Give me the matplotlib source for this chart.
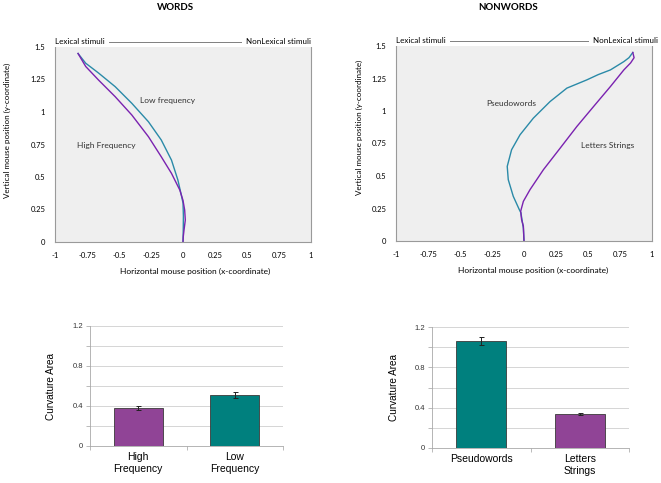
import matplotlib
matplotlib.use('Agg')
import numpy as np
import matplotlib.pyplot as plt

# mouse trajectories
words_low_x = [-0.82, -0.76, -0.66, -0.53, -0.40, -0.27, -0.17, -0.09, -0.04, -0.013, 0.0, 0.003, 0.002, 0.0]
words_low_y = [1.45, 1.375, 1.30, 1.195, 1.067, 0.925, 0.785, 0.63, 0.477, 0.36, 0.30, 0.20, 0.10, 0.0]
words_high_x = [-0.82, -0.76, -0.66, -0.53, -0.40, -0.27, -0.17, -0.09, -0.025, 0.0, 0.013, 0.018, 0.008, 0.002, 0.0]
words_high_y = [1.45, 1.35, 1.246, 1.118, 0.977, 0.81, 0.656, 0.528, 0.40, 0.32, 0.246, 0.169, 0.092, 0.04, 0.0]

pseudo_x = [0.85, 0.82, 0.78, 0.675, 0.58, 0.49, 0.335, 0.204, 0.073, -0.031, -0.097, -0.131, -0.123, -0.084, -0.037, -0.024, -0.015, -0.005, 0.0]
pseudo_y = [1.45, 1.41, 1.38, 1.316, 1.28, 1.239, 1.176, 1.073, 0.945, 0.817, 0.702, 0.574, 0.472, 0.344, 0.242, 0.216, 0.16, 0.10, 0.0]
letters_x = [0.85, 0.86, 0.833, 0.78, 0.675, 0.544, 0.413, 0.283, 0.152, 0.047, -0.005, -0.026, -0.019, -0.005, 0.0]
letters_y = [1.45, 1.41, 1.37, 1.316, 1.188, 1.035, 0.881, 0.715, 0.549, 0.395, 0.305, 0.229, 0.165, 0.114, 0.0]

xticks_top = [-1, -0.75, -0.5, -0.25, 0, 0.25, 0.5, 0.75, 1]
yticks_top = [0, 0.25, 0.5, 0.75, 1, 1.25, 1.5]

# curvature area bars
words_cats = ['High\nFrequency', 'Low\nFrequency']
words_area = [0.385, 0.51]
words_err = [0.02, 0.027]
nonwords_cats = ['Pseudowords', 'Letters\nStrings']
nonwords_area = [1.065, 0.337]
nonwords_err = [0.04, 0.012]

teal_line = '#2a8aa8'
purple_line = '#7a22b0'
teal_bar = '#00807e'
purple_bar = '#904496'

W, H = 661, 483
fig = plt.figure(figsize=(W / 100, H / 100), dpi=100)
fig.patch.set_facecolor('white')


def px_axes(x0, y0, x1, y1):
    return fig.add_axes([x0 / W, 1 - y1 / H, (x1 - x0) / W, (y1 - y0) / H])


def fmt(v):
    return ('%g' % v)


def traj_panel(ax, series, notes, right_pad, xlab_pos, ylab_pos):
    ax.set_facecolor('#efefef')
    for xs, ys, c in series:
        ax.plot(xs, ys, color=c, lw=1.0)
    ax.set_xlim(-1, 1)
    ax.set_ylim(0, 1.5)
    ax.set_xticks(xticks_top)
    ax.set_xticklabels([fmt(v) for v in xticks_top], fontsize=5.5, family='Lato')
    ax.set_yticks(yticks_top)
    ax.set_yticklabels([fmt(v) for v in yticks_top], fontsize=5.5, family='Lato')
    ax.tick_params(length=0, pad=7)
    for s in ['left', 'right', 'bottom']:
        ax.spines[s].set_color('#9a9a9a')
        ax.spines[s].set_linewidth(0.8)
    ax.spines['top'].set_visible(False)
    ax.set_xlabel('Horizontal mouse position (x-coordinate)', fontsize=6, family='Lato')
    ax.set_ylabel('Vertical mouse position (y-coordinate)', fontsize=5.8, family='Lato')
    ax.xaxis.set_label_coords(*xlab_pos)
    ax.yaxis.set_label_coords(*ylab_pos)
    ax.plot([0, 1], [1.028, 1.028], transform=ax.transAxes, color='#808080', lw=0.7, clip_on=False)
    ax.text(0.0, 1.028, 'Lexical stimuli ', transform=ax.transAxes, ha='left', va='center',
            fontsize=5.8, family='Lato', bbox=dict(fc='white', ec='none', pad=1.5))
    ax.text(1.0 + right_pad, 1.028, ' NonLexical stimuli', transform=ax.transAxes, ha='right', va='center',
            fontsize=5.8, family='Lato', bbox=dict(fc='white', ec='none', pad=1.5))
    for tx, ty, s in notes:
        ax.text(tx, ty, s, ha='center', va='center', fontsize=6, family='Lato', color='#333333')


ax1 = px_axes(55, 47, 311, 242)
traj_panel(ax1, [(words_low_x, words_low_y, teal_line), (words_high_x, words_high_y, purple_line)],
           [(-0.12, 1.087, 'Low frequency'), (-0.6, 0.744, 'High Frequency')], 0.0,
           (0.547, -0.135), (-0.172, 0.574))
ax2 = px_axes(396, 46, 652, 241)
traj_panel(ax2, [(pseudo_x, pseudo_y, teal_line), (letters_x, letters_y, purple_line)],
           [(-0.1, 1.055, 'Pseudowords'), (0.65, 0.738, 'Letters Strings')], 0.025,
           (0.535, -0.135), (-0.129, 0.585))

fig.text(175 / W, 1 - 8 / H, 'WORDS', ha='center', va='center', fontsize=7, fontweight='bold', family='Lato')
fig.text(508 / W, 1 - 8 / H, 'NONWORDS', ha='center', va='center', fontsize=7, fontweight='bold', family='Lato')


def bar_panel(ax, cats, vals, errs, colors, ylab_x):
    x = np.arange(len(cats))
    ax.set_axisbelow(True)
    ax.bar(x, vals, width=0.51, color=colors, edgecolor='#3a3a3a', linewidth=0.6,
           yerr=errs, error_kw=dict(ecolor='#222222', elinewidth=0.7, capsize=1.8, capthick=0.7))
    ax.set_xlim(-0.5, 1.5)
    ax.set_ylim(0, 1.2)
    yt = [0, 0.2, 0.4, 0.6, 0.8, 1.0, 1.2]
    ax.set_yticks(yt)
    ax.set_yticklabels(['0', '', '0.4', '', '0.8', '', '1.2'], fontsize=5.5, family='Liberation Sans', color='#333333')
    ax.yaxis.grid(True, color='#cfcfcf', lw=0.6)
    ax.set_xticks(x)
    ax.set_xticklabels(cats, fontsize=7.5, family='Liberation Sans', linespacing=1.3)
    ax.set_xticks([-0.5, 0.5, 1.5], minor=True)
    ax.tick_params(axis='x', which='major', length=0, pad=4)
    ax.tick_params(axis='x', which='minor', length=3, color='#b0b0b0', width=0.6)
    ax.tick_params(axis='y', length=3, color='#b0b0b0', width=0.6, pad=2)
    for s in ['top', 'right']:
        ax.spines[s].set_visible(False)
    for s in ['left', 'bottom']:
        ax.spines[s].set_color('#a8a8a8')
        ax.spines[s].set_linewidth(0.6)
    ax.set_ylabel('Curvature Area', fontsize=7.2, family='Liberation Sans')
    ax.yaxis.set_label_coords(ylab_x, 0.5)


ax3 = px_axes(90, 326, 283, 446)
bar_panel(ax3, words_cats, words_area, words_err, [purple_bar, teal_bar], -0.176)
ax4 = px_axes(432, 327, 629, 448)
bar_panel(ax4, nonwords_cats, nonwords_area, nonwords_err, [teal_bar, purple_bar], -0.168)

fig.savefig('out.png', dpi=100)
